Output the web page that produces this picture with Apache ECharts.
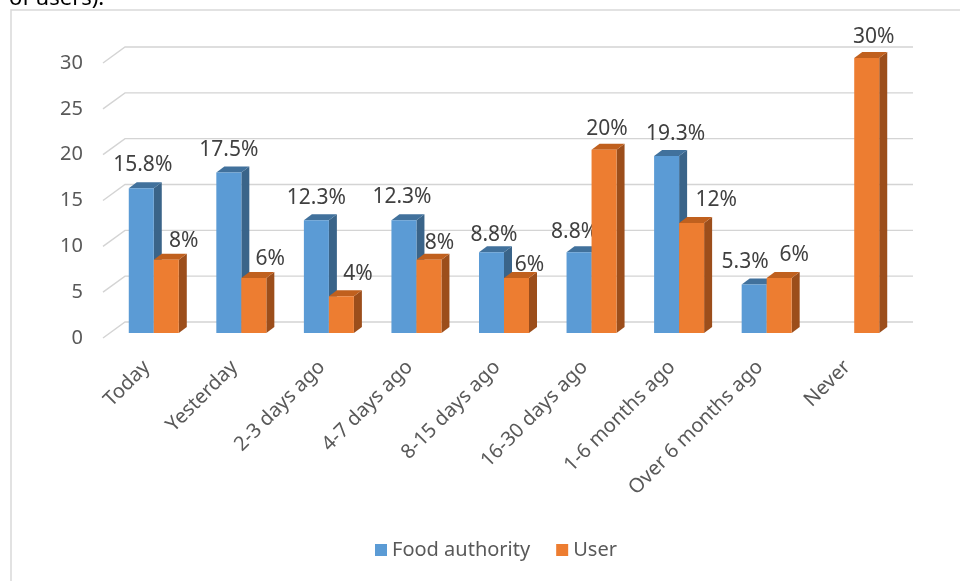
<!DOCTYPE html>
<html>
<head>
<meta charset="utf-8">
<script src="https://cdn.jsdelivr.net/npm/echarts@6/dist/echarts.min.js"></script>
<style>
  html, body { margin: 0; padding: 0; background: #ffffff; }
  #chart { width: 960px; height: 581px; }
</style>
</head>
<body>
<div id="chart"></div>
<script>
// Last time contact was made, by source
const categories = ['Today', 'Yesterday', '2-3 days ago', '4-7 days ago', '8-15 days ago',
                    '16-30 days ago', '1-6 months ago', 'Over 6 months ago', 'Never'];
const foodAuthority = [15.8, 17.5, 12.3, 12.3, 8.8, 8.8, 19.3, 5.3, null];
const user = [8, 6, 4, 8, 6, 20, 12, 6, 30];
const yTicks = [0, 5, 10, 15, 20, 25, 30];
const seriesNames = ['Food authority', 'User'];

// Small per-label nudges (pixels) so the value labels sit where they read best
const labelShiftX = [
  [1.5, 0, 0, -2, 2.5, -4.5, 9, -9, 0],
  [17.5, 16.5, 16.5, 10.5, 13, 3, 24.5, 15, 7]
];
const labelShiftY = [
  [-28, -28, -27, -28, -22, -25, -27, -27, -27],
  [-24, -24, -27, -22, -18, -26, -28, -28, -26]
];

const FONT = 'Noto Sans';
const WALL = { dx: 22, dy: 16 };          // depth of the floor / back wall
const BAR_INSET = { dx: 7, dy: 5 };       // bars sit mid-depth
const BAR_DEPTH = { dx: 8, dy: 6 };       // thickness of each column
const BAR_RATIO = 0.2856;                 // column width as share of a category band

const palette = [
  { front: '#5B9BD5', top: '#41719C', side: '#3A6489' },
  { front: '#ED7D31', top: '#C0601E', side: '#9C4E1B' }
];

function wallRenderer(params, api) {
  const cs = params.coordSys;
  const p = api.coord([0, api.value(1)]);
  const x0 = cs.x, x1 = cs.x + cs.width, y = p[1];
  return {
    type: 'polyline',
    shape: { points: [[x0, y], [x0 + WALL.dx, y - WALL.dy], [x1 + WALL.dx, y - WALL.dy]] },
    style: { stroke: '#d4d4d4', lineWidth: 1.4, fill: null },
    silent: true
  };
}

function makeBarRenderer(si) {
  return function (params, api) {
    const v = api.value(1);
    if (v == null || isNaN(v)) return;
    const idx = api.value(0);
    const base = api.coord([idx, 0]);
    const top = api.coord([idx, v]);
    const band = api.size([1, 0])[0];
    const w = band * BAR_RATIO;
    const x0 = base[0] - w + si * w + BAR_INSET.dx;
    const x1 = x0 + w;
    const y0 = base[1] - BAR_INSET.dy;
    const yt = top[1] - BAR_INSET.dy;
    const c = palette[si];
    return {
      type: 'group',
      children: [
        {
          type: 'polygon',
          shape: { points: [[x1, yt], [x1 + BAR_DEPTH.dx, yt - BAR_DEPTH.dy], [x1 + BAR_DEPTH.dx, y0 - BAR_DEPTH.dy], [x1, y0]] },
          style: { fill: c.side }
        },
        {
          type: 'polygon',
          shape: { points: [[x0, yt], [x0 + BAR_DEPTH.dx, yt - BAR_DEPTH.dy], [x1 + BAR_DEPTH.dx, yt - BAR_DEPTH.dy], [x1, yt]] },
          style: { fill: c.top }
        },
        {
          type: 'rect',
          shape: { x: x0, y: yt, width: w, height: y0 - yt },
          style: { fill: c.front }
        },
        {
          type: 'text',
          x: (x0 + x1) / 2 + labelShiftX[si][idx],
          y: yt + 5 + labelShiftY[si][idx],
          style: {
            text: v + '%',
            fontFamily: FONT,
            fontSize: 21,
            fill: '#404040',
            align: 'center',
            verticalAlign: 'middle'
          },
          z2: 10
        }
      ]
    };
  };
}

const chart = echarts.init(document.getElementById('chart'));
chart.setOption({
  animation: false,
  backgroundColor: '#ffffff',
  textStyle: { fontFamily: FONT },
  graphic: [
    {
      type: 'rect',
      shape: { x: 11, y: 10, width: 1000, height: 700 },
      style: { fill: null, stroke: '#d9d9d9', lineWidth: 1.5 },
      silent: true
    },
    {
      type: 'text',
      left: 9,
      top: -12,
      style: { text: 'of users).', fontFamily: FONT, fontSize: 22, fill: '#000000' },
      silent: true
    }
  ],
  legend: {
    bottom: 16,
    left: 370,
    itemWidth: 12,
    itemHeight: 12,
    itemGap: 26,
    icon: 'rect',
    textStyle: { fontFamily: FONT, fontSize: 20, color: '#595959' },
    data: seriesNames
  },
  grid: { left: 103, top: 63, width: 788, height: 275 },
  xAxis: {
    type: 'category',
    data: categories,
    axisLine: { show: false },
    axisTick: { show: false },
    axisLabel: { rotate: 45, interval: 0, margin: 26, fontSize: 20, color: '#595959', fontFamily: FONT }
  },
  yAxis: {
    type: 'value',
    min: 0,
    max: 30,
    interval: 5,
    axisLine: { show: false },
    axisTick: { show: false },
    splitLine: { show: false },
    axisLabel: { margin: 20, fontSize: 20, color: '#595959', fontFamily: FONT }
  },
  series: [
    {
      type: 'custom',
      name: 'wall',
      renderItem: wallRenderer,
      data: yTicks.map(t => [0, t]),
      z: 1,
      silent: true
    },
    {
      type: 'custom',
      name: seriesNames[0],
      itemStyle: { color: palette[0].front },
      renderItem: makeBarRenderer(0),
      data: foodAuthority.map((v, i) => [i, v]),
      z: 2
    },
    {
      type: 'custom',
      name: seriesNames[1],
      itemStyle: { color: palette[1].front },
      renderItem: makeBarRenderer(1),
      data: user.map((v, i) => [i, v]),
      z: 3
    }
  ]
});
</script>
</body>
</html>
